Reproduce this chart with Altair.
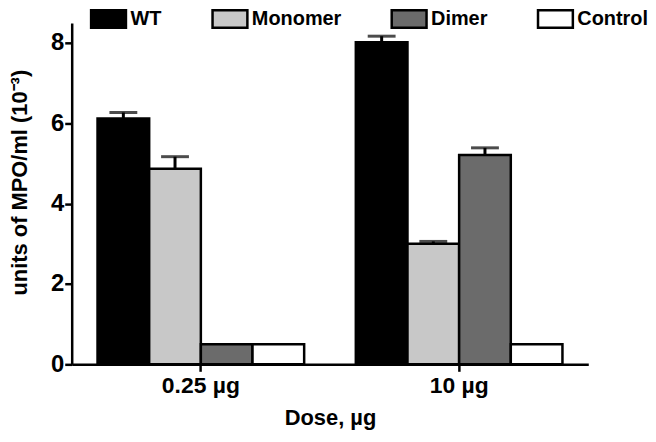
import altair as alt
import pandas as pd

doses = ["0.25 µg", "10 µg"]
groups = ["WT", "Monomer", "Dimer", "Control"]
colors = ["#000000", "#c8c8c8", "#6b6b6b", "#ffffff"]
values_025 = [6.12, 4.87, 0.50, 0.50]
errors_025 = [0.15, 0.30, 0.0, 0.0]
values_10 = [8.02, 3.00, 5.21, 0.50]
errors_10 = [0.15, 0.06, 0.18, 0.0]

rows = []
for dose, vals, errs in [(doses[0], values_025, errors_025), (doses[1], values_10, errors_10)]:
    for g, v, e in zip(groups, vals, errs):
        rows.append({"dose": dose, "group": g, "value": v, "err": e, "top": v + e})
df = pd.DataFrame(rows)

FONT = "Liberation Sans"

x = alt.X("dose:N", sort=doses,
          scale=alt.Scale(paddingInner=0.2, paddingOuter=0.1),
          axis=alt.Axis(title="Dose, µg", labelAngle=0, labelFontSize=23,
                        labelFontWeight="bold", titleFontSize=22, titleFontWeight="bold",
                        labelFont=FONT, titleFont=FONT, labelColor="black", titleColor="black",
                        domainColor="black", domainWidth=2.5, tickColor="black",
                        tickWidth=2.5, tickSize=7, labelPadding=3, titlePadding=10))
xo = alt.XOffset("group:N", sort=groups, scale=alt.Scale(paddingInner=0, paddingOuter=0))
y = alt.Y("value:Q",
          scale=alt.Scale(domain=[0, 8.5], nice=False),
          axis=alt.Axis(title="units of MPO/ml (10⁻³)", values=[0, 2, 4, 6, 8], grid=False,
                        labelFontSize=24, labelFontWeight="bold", titleFontSize=22,
                        titleFontWeight="bold", labelFont=FONT, titleFont=FONT,
                        labelColor="black", titleColor="black", domainColor="black",
                        domainWidth=2.5, tickColor="black", tickWidth=2.5, tickSize=7,
                        labelPadding=1, titlePadding=19, titleY=160))

bars = alt.Chart(df).mark_bar(stroke="black", strokeWidth=2.5).encode(
    x=x, xOffset=xo, y=y,
    fill=alt.Fill("group:N", sort=groups,
                  scale=alt.Scale(domain=groups, range=colors),
                  legend=alt.Legend(title=None, orient="none", direction="horizontal",
                                    legendX=18, legendY=-23, columnPadding=45, padding=0,
                                    symbolType="M-1,-0.5H1V0.5H-1Z", symbolSize=1225,
                                    symbolStrokeColor="black", symbolStrokeWidth=2.5,
                                    symbolOpacity=1, labelFontSize=20, labelFontWeight="bold",
                                    labelFont=FONT, labelColor="black", labelOffset=3)),
)

err_df = df[df["err"] > 0]
stems = alt.Chart(err_df).mark_rule(color="black", strokeWidth=3).encode(
    x=alt.X("dose:N", sort=doses), xOffset=alt.XOffset("group:N", sort=groups),
    y=alt.Y("value:Q"), y2="top:Q")
caps = alt.Chart(err_df).mark_tick(color="black", thickness=3, size=28, orient="horizontal").encode(
    x=alt.X("dose:N", sort=doses), xOffset=alt.XOffset("group:N", sort=groups),
    y=alt.Y("top:Q"))

chart = alt.layer(bars, stems, caps).properties(
    width=519, height=343,
    background="white",
    autosize=alt.AutoSizeParams(type="none"),
    padding={"left": 64, "top": 14, "right": 60, "bottom": 70},
).configure_view(strokeWidth=0, stroke="transparent")

chart.save("out.html", embed_options={"renderer": "svg", "actions": False})
